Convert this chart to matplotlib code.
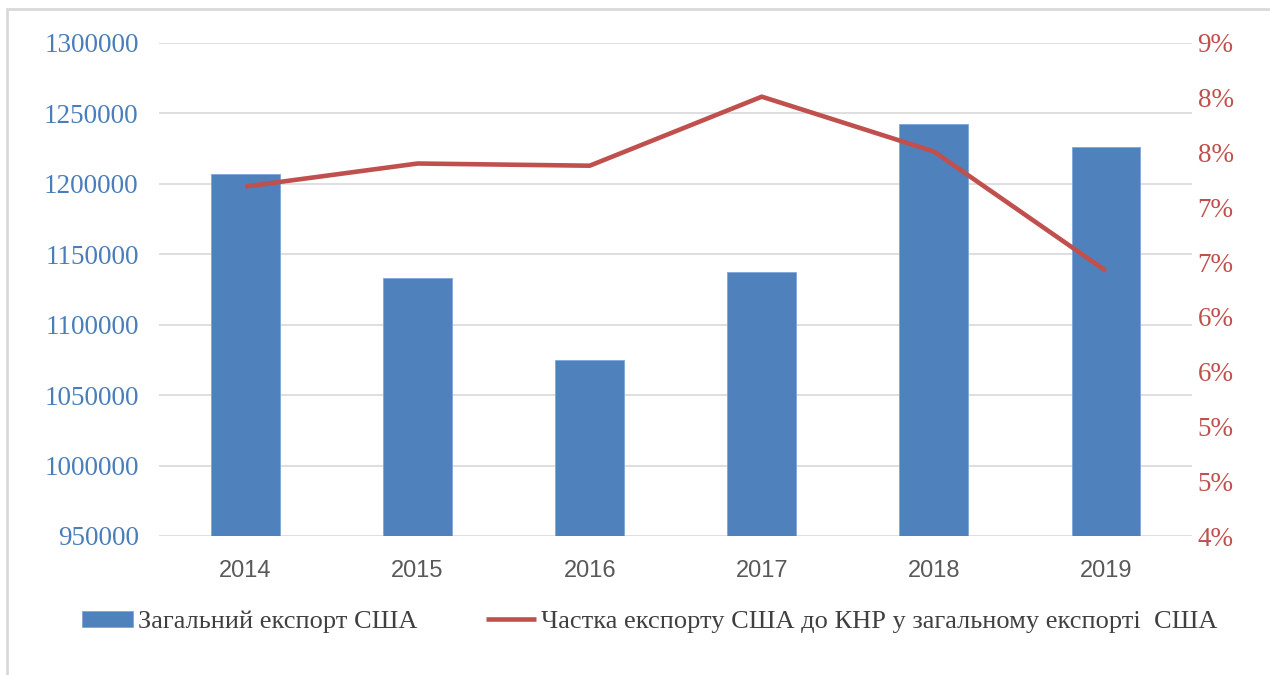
import math
import matplotlib
matplotlib.use("Agg")
import matplotlib.pyplot as plt
from matplotlib.ticker import FuncFormatter
from matplotlib.patches import Rectangle

years = ["2014", "2015", "2016", "2017", "2018", "2019"]
total_export = [1206800, 1133400, 1075000, 1137600, 1242300, 1226000]
china_share = [7.19, 7.40, 7.38, 8.01, 7.51, 6.42]  # %

bar_label = "Загальний експорт США"
line_label = "Частка експорту США до КНР у загальному експорті  США"

blue = "#4F81BD"
red = "#C0504D"
grid_c = "#D9D9D9"

fig = plt.figure(figsize=(12.7, 6.75), dpi=100)
ax = fig.add_axes([159.5 / 1270, 1 - 536 / 675, (1192 - 159.5) / 1270, (536 - 43) / 675])

x = list(range(len(years)))
bars = ax.bar(x, total_export, width=0.4, color=blue, edgecolor="#7FA6D6", linewidth=0.6,
              zorder=2, label=bar_label)
ax.set_ylim(950000, 1300000)
ax.set_yticks(range(950000, 1300001, 50000))
ax.yaxis.set_major_formatter(FuncFormatter(lambda v, p: f"{int(v)}"))
ax.set_xlim(-0.5, len(years) - 0.5)
ax.set_xticks(x)
ax.set_xticklabels(years, fontsize=17, color="#595959", family="Liberation Sans")
ax.tick_params(axis="x", length=0, pad=17)
ax.tick_params(axis="y", length=0, pad=15, labelcolor="#4A7EBB")
for lab in ax.get_yticklabels():
    lab.set_family("Liberation Serif")
    lab.set_fontsize(19.5)
ax.grid(axis="y", color=grid_c, linewidth=1.2, zorder=0)
ax.set_axisbelow(True)
for s in ax.spines.values():
    s.set_visible(False)

ax2 = ax.twinx()
line, = ax2.plot(x, china_share, color=red, linewidth=3.3, solid_capstyle="butt",
                 zorder=3, label=line_label)
ax2.set_ylim(4.0, 8.5)
ax2.set_yticks([4.0 + 0.5 * i for i in range(10)])
ax2.yaxis.set_major_formatter(FuncFormatter(lambda v, p: f"{int(math.floor(v + 0.5))}%"))
ax2.tick_params(axis="y", length=0, pad=4, labelcolor=red)
for lab in ax2.get_yticklabels():
    lab.set_family("Liberation Serif")
    lab.set_fontsize(19.5)
for s in ax2.spines.values():
    s.set_visible(False)

fig.legend([bars, line], [bar_label, line_label], loc="center",
           bbox_to_anchor=(650 / 1270, 1 - 622 / 675), ncol=2, frameon=False,
           prop={"family": "Liberation Serif", "size": 19}, labelcolor="#404040",
           handlelength=1.9, handleheight=0.6, handletextpad=0.2, columnspacing=2.6)

# light outer frame
fig.patches.append(Rectangle((7 / 1270, -0.05), 1.2, 1 - 9 / 675 + 0.05,
                             transform=fig.transFigure, fill=False,
                             edgecolor=grid_c, linewidth=2))

fig.savefig("out.png", dpi=100, facecolor="white")
